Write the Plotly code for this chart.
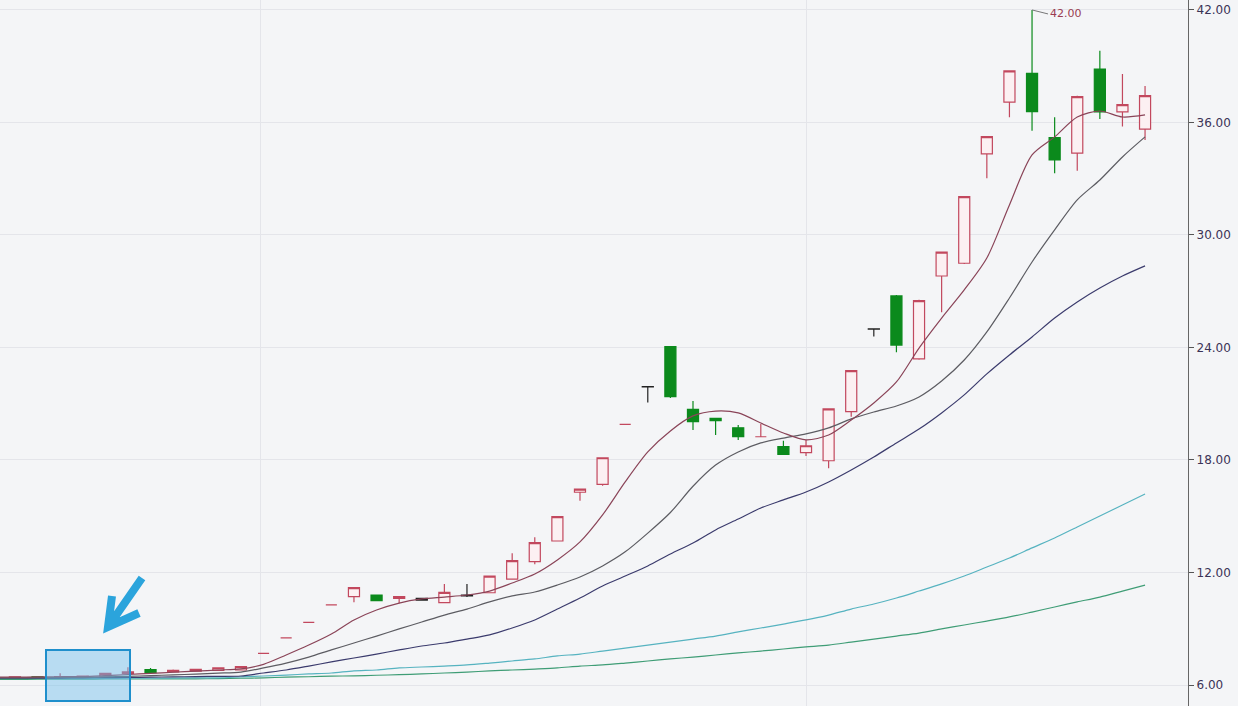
import plotly.graph_objects as go

# ---------------- data ----------------
idx = list(range(-1, 51))

open_ = [6.42, 6.42, 6.44, 6.42, 6.45, 6.48, 6.62, 6.82, 6.70, 6.74, 6.78, 6.80,
         7.69, 8.51, 9.34, 10.27, 10.71, 10.80, 10.62, 10.62, 10.39, 10.80, 10.92,
         11.65, 12.58, 13.68, 16.28, 16.70, 19.90, 21.91, 24.04, 20.70, 20.22, 19.72,
         19.24, 18.71, 18.39, 17.96, 20.58, 24.99, 26.75, 23.39, 27.81, 28.49, 34.32,
         37.08, 38.62, 35.19, 34.36, 38.85, 36.56, 35.64]
high = [6.44, 6.46, 6.47, 6.62, 6.50, 6.65, 6.95, 6.90, 6.82, 6.86, 6.95, 7.00,
        7.69, 8.51, 9.34, 10.27, 11.22, 10.82, 10.73, 10.65, 11.39, 11.39, 11.83,
        13.02, 13.88, 15.00, 16.47, 18.14, 19.90, 21.93, 24.08, 21.15, 20.25, 19.87,
        19.92, 19.03, 19.07, 20.75, 22.80, 25.00, 26.80, 26.55, 29.10, 32.06, 35.28,
        38.78, 42.00, 36.28, 37.42, 39.83, 38.59, 37.95]
low = [6.40, 6.40, 6.40, 6.40, 6.42, 6.46, 6.58, 6.62, 6.68, 6.72, 6.75, 6.78,
       7.69, 8.51, 9.34, 10.27, 10.41, 10.48, 10.36, 10.50, 10.37, 10.69, 10.90,
       11.63, 12.44, 13.66, 15.83, 16.62, 19.90, 21.06, 21.31, 19.60, 19.33, 19.07,
       19.22, 18.28, 18.21, 17.56, 20.31, 24.58, 23.74, 23.35, 25.88, 28.45, 33.02,
       36.28, 35.56, 33.29, 33.43, 36.19, 35.78, 35.07]
close = [6.43, 6.44, 6.42, 6.45, 6.47, 6.62, 6.70, 6.66, 6.78, 6.83, 6.92, 6.98,
         7.69, 8.51, 9.34, 10.27, 11.19, 10.50, 10.71, 10.53, 10.94, 10.75, 11.81,
         12.63, 13.59, 14.98, 16.45, 18.12, 19.90, 21.90, 21.38, 20.04, 20.10, 19.24,
         19.24, 18.30, 18.76, 20.72, 22.76, 24.98, 24.13, 26.50, 29.08, 32.04, 35.24,
         38.75, 36.58, 34.00, 37.38, 36.56, 36.95, 37.43]
black_idx = [18, 20, 28, 38]          # candles drawn in black (doji "T")

ma5 = [6.42, 6.42, 6.43, 6.44, 6.45, 6.50, 6.56, 6.62, 6.68, 6.74, 6.80, 6.86,
       7.10, 7.60, 8.13, 8.72, 9.47, 10.00, 10.37, 10.59, 10.69, 10.80, 11.01,
       11.44, 11.92, 12.67, 13.63, 15.07, 16.83, 18.43, 19.55, 20.35, 20.61, 20.51,
       19.97, 19.44, 19.07, 19.33, 20.13, 21.04, 22.16, 23.97, 25.57, 27.07, 28.77,
       31.60, 34.27, 35.23, 36.29, 36.61, 36.29, 36.40]
ma10 = [6.38, 6.38, 6.39, 6.40, 6.41, 6.43, 6.46, 6.50, 6.54, 6.58, 6.63, 6.69,
        6.91, 7.17, 7.49, 7.87, 8.24, 8.61, 8.99, 9.36, 9.73, 10.05, 10.43,
        10.75, 10.96, 11.33, 11.76, 12.35, 13.10, 14.10, 15.20, 16.60, 17.73, 18.43,
        18.91, 19.17, 19.39, 19.71, 20.19, 20.56, 20.88, 21.36, 22.21, 23.33, 24.83,
        26.64, 28.56, 30.27, 31.87, 32.93, 34.16, 35.23]
ma20 = [6.36, 6.36, 6.37, 6.37, 6.38, 6.39, 6.40, 6.42, 6.43, 6.45, 6.46, 6.48,
        6.64, 6.80, 7.01, 7.23, 7.44, 7.65, 7.87, 8.08, 8.24, 8.45, 8.67,
        9.04, 9.47, 10.05, 10.64, 11.28, 11.81, 12.35, 12.99, 13.57, 14.27, 14.85,
        15.44, 15.87, 16.29, 16.83, 17.47, 18.16, 18.91, 19.65, 20.51, 21.47, 22.59,
        23.60, 24.56, 25.57, 26.43, 27.17, 27.81, 28.35]
ma60 = [6.35, 6.35, 6.35, 6.36, 6.36, 6.36, 6.37, 6.37, 6.37, 6.38, 6.38, 6.43,
        6.48, 6.53, 6.59, 6.64, 6.75, 6.80, 6.91, 6.96, 7.01, 7.07, 7.17,
        7.28, 7.39, 7.55, 7.65, 7.81, 7.97, 8.13, 8.29, 8.45, 8.61, 8.83,
        9.04, 9.25, 9.47, 9.73, 10.05, 10.32, 10.64, 11.01, 11.39, 11.81, 12.29,
        12.77, 13.31, 13.84, 14.43, 15.01, 15.60, 16.19]
ma120 = [6.30, 6.30, 6.31, 6.31, 6.31, 6.32, 6.32, 6.32, 6.33, 6.33, 6.34, 6.36,
         6.38, 6.42, 6.44, 6.47, 6.49, 6.52, 6.55, 6.59, 6.64, 6.69, 6.75,
         6.80, 6.85, 6.91, 7.01, 7.07, 7.17, 7.28, 7.39, 7.49, 7.60, 7.71,
         7.81, 7.92, 8.03, 8.13, 8.29, 8.45, 8.61, 8.77, 8.99, 9.20, 9.41,
         9.63, 9.89, 10.16, 10.43, 10.69, 11.01, 11.33]

y_ticks = [6, 12, 18, 24, 30, 36, 42]
vgrid_pos = [10.85, 35.0]
peak_label = "42.00"

# ---------------- styles ----------------
BG = "#f4f5f7"
UP = "#c2485e"
UP_FILL = "#fcf0f2"
DOWN = "#0b8a1c"
GRID = "#e4e5ea"


def subset(cond):
    xs, o, h, l, c = [], [], [], [], []
    for k, i in enumerate(idx):
        if cond(i, open_[k], close[k]):
            xs.append(i); o.append(open_[k]); h.append(high[k]); l.append(low[k]); c.append(close[k])
    return xs, o, h, l, c


fig = go.Figure()

ma_specs = [(ma120, "#3f9d76"), (ma60, "#56b3c0"), (ma20, "#3b3b6d"),
            (ma10, "#5c5c62"), (ma5, "#8a4458")]
for series, col in ma_specs:
    fig.add_trace(go.Scatter(x=idx, y=series, mode="lines",
                             line=dict(color=col, width=1.2, shape="spline", smoothing=0.8),
                             hoverinfo="skip", showlegend=False))


def add_candles(xs, o, h, l, c, inc_line, inc_fill, dec_line, dec_fill):
    if not xs:
        return
    fig.add_trace(go.Candlestick(
        x=xs, open=o, high=h, low=l, close=c,
        increasing=dict(line=dict(color=inc_line, width=1.2), fillcolor=inc_fill),
        decreasing=dict(line=dict(color=dec_line, width=1.2), fillcolor=dec_fill),
        whiskerwidth=0, hoverinfo="skip", showlegend=False))


add_candles(*subset(lambda i, o, c: i not in black_idx and c > o), UP, UP_FILL, UP, UP_FILL)
add_candles(*subset(lambda i, o, c: i not in black_idx and c < o), DOWN, DOWN, DOWN, DOWN)
add_candles(*subset(lambda i, o, c: i not in black_idx and c == o), UP, UP, UP, UP)
add_candles(*subset(lambda i, o, c: i in black_idx), "#222222", "#222222", "#222222", "#222222")

# peak label
k_peak = high.index(max(high))
fig.add_annotation(x=idx[k_peak], y=high[k_peak], text=peak_label,
                   showarrow=True, arrowhead=0, arrowwidth=1, arrowcolor="#777777",
                   ax=16, ay=4, xanchor="left", yanchor="middle",
                   font=dict(family="DejaVu Sans", size=11, color="#9a3c52"))

# blue highlight box and arrow (decoration, paper coords from pixels)
PW, PH = 1188.0, 706.0


def px(x):
    return x / PW


def py(y):
    return 1 - y / PH


fig.add_shape(type="rect", xref="paper", yref="paper",
              x0=px(46), x1=px(130), y0=py(701), y1=py(650),
              fillcolor="rgba(110,190,235,0.45)",
              line=dict(color="#1f8fcc", width=2), layer="above")

arrow_path = (f"M {px(142)} {py(578)} L {px(108)} {py(627)} "
              f"M {px(112)} {py(596)} L {px(108)} {py(627)} L {px(139)} {py(613)}")
fig.add_shape(type="path", xref="paper", yref="paper", path=arrow_path,
              line=dict(color="#2ba4dc", width=8), layer="above")

fig.update_layout(
    width=1238, height=706,
    margin=dict(l=0, r=50, t=0, b=0, autoexpand=False),
    paper_bgcolor=BG, plot_bgcolor=BG,
    showlegend=False,
    xaxis=dict(range=[-0.66, 51.9], rangeslider=dict(visible=False),
               tickvals=vgrid_pos, showticklabels=False, ticks="",
               showgrid=True, gridcolor=GRID, gridwidth=1, automargin=False,
               zeroline=False, showline=False, fixedrange=True),
    yaxis=dict(range=[4.88, 42.53], side="right", tickvals=y_ticks,
               tickformat=".2f", ticks="outside", ticklen=5, tickcolor="#555555",
               showline=True, linecolor="#666666", linewidth=1.2, automargin=False,
               showgrid=True, gridcolor=GRID, gridwidth=1, zeroline=False,
               tickfont=dict(family="DejaVu Sans", size=12, color="#3b3356"),
               fixedrange=True),
)

fig.write_html("out.html", config={"displayModeBar": False},
               post_script="document.body.style.margin='0';"
                           "document.body.style.background='" + BG + "';")
